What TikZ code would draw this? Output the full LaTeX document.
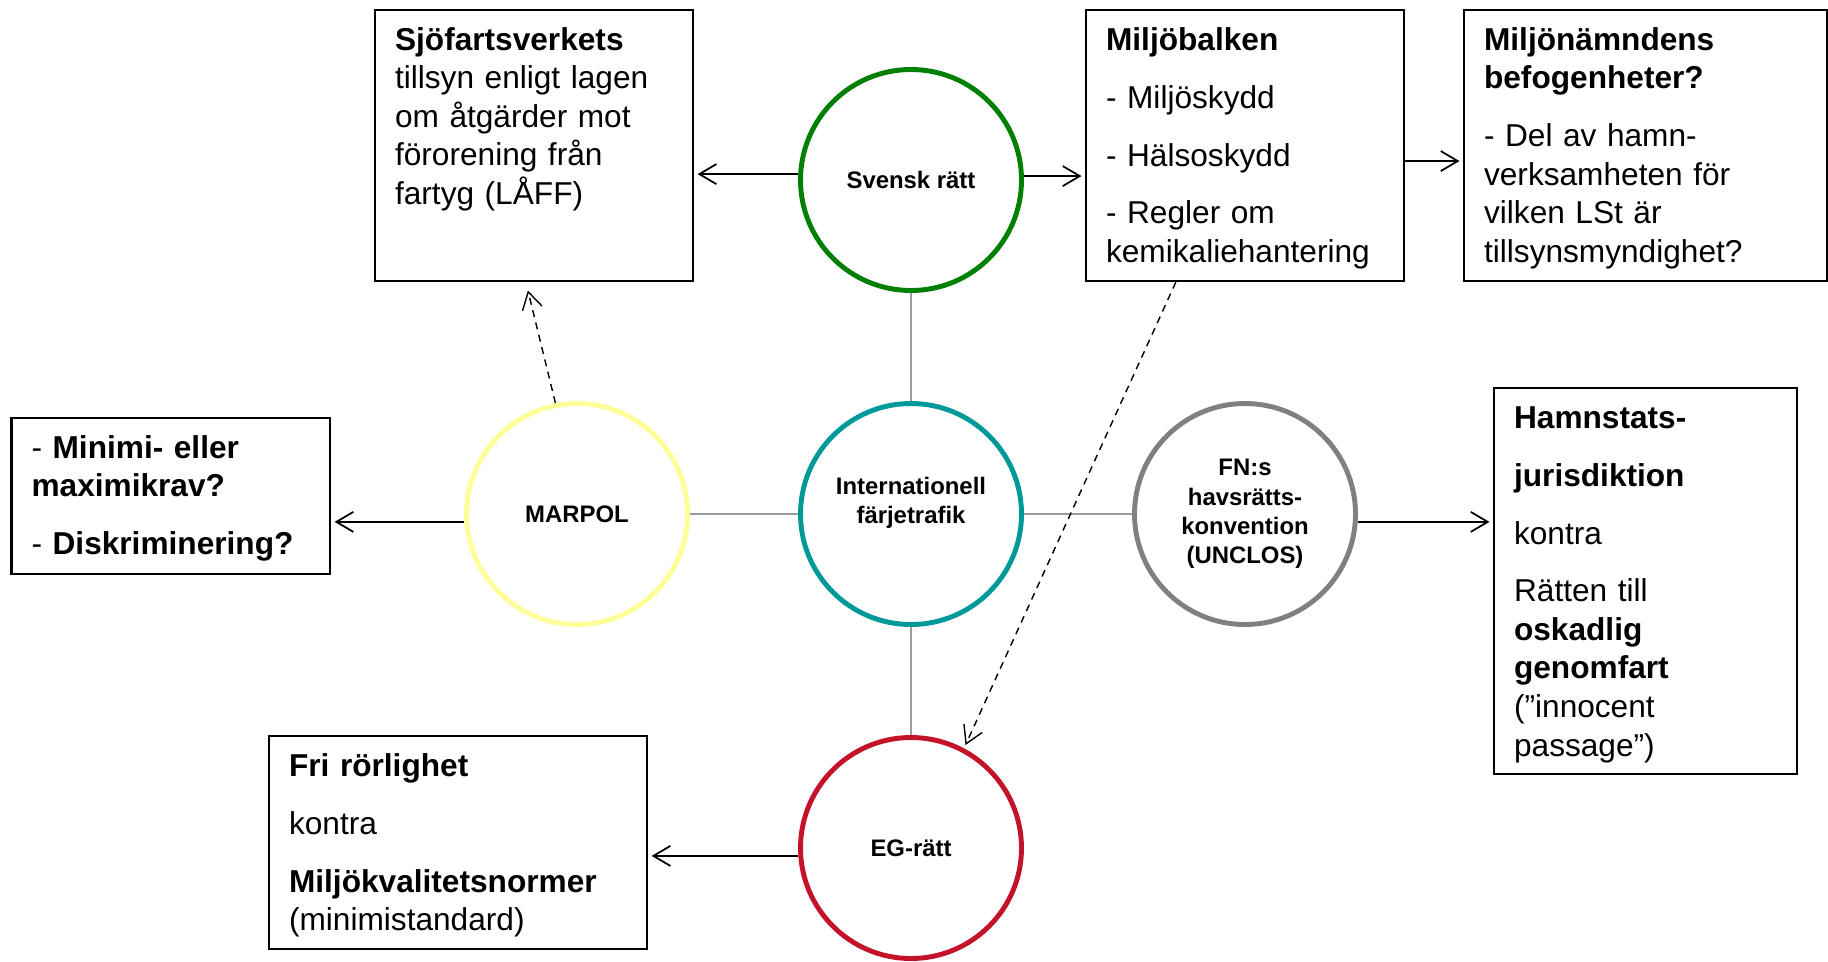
\documentclass[tikz,border=0pt]{standalone}
\usepackage{fontspec}
\setmainfont{Liberation Sans}
\usetikzlibrary{arrows.meta}
\definecolor{svgreen}{RGB}{0,128,0}
\definecolor{intlteal}{RGB}{0,153,153}
\definecolor{marpolyellow}{RGB}{255,255,153}
\definecolor{fngray}{RGB}{128,128,128}
\definecolor{egred}{RGB}{196,18,40}
\definecolor{linkgray}{RGB}{155,155,155}
\begin{document}
\begin{tikzpicture}[
  box/.style={draw, line width=0.6pt, anchor=north west, align=left, inner xsep=0.2cm, inner ysep=0.173cm, text height=0.23cm, font=\fontsize{9}{10.96}\selectfont},
  ring/.style={circle, draw, line width=1.4pt, minimum size=2.21cm, inner sep=0pt, align=center, font=\fontsize{6.8}{8.3}\selectfont\bfseries},
  arr/.style={-{Straight Barb[length=0.17cm,width=0.2cm]}, line width=0.5pt, shorten >=1pt},
  dasharr/.style={arr, dash pattern=on 2pt off 1.6pt, line width=0.4pt},
  link/.style={draw=linkgray, line width=0.8pt}
]
  \useasboundingbox[fill=white] (0,0) rectangle (18.28,-9.61);
  \node[ring, draw=svgreen] (svensk) at (9.11,-1.80) {Svensk rätt};
  \node[ring, draw=marpolyellow] (marpol) at (5.77,-5.14) {MARPOL};
  \node[ring, draw=intlteal, text depth=0.27cm] (intl) at (9.11,-5.14) {Internationell\\färjetrafik};
  \node[ring, draw=fngray] (fn) at (12.45,-5.14) {FN:s\\havsrätts-\\konvention\\(UNCLOS)};
  \node[ring, draw=egred] (eg) at (9.11,-8.48) {EG-rätt};
  \node[box, text width=2.78cm, text depth=2.134cm] (sjofart) at (3.74,-0.09) {\textbf{Sjöfartsverkets}\\tillsyn enligt lagen\\om åtgärder mot\\förorening från\\fartyg (LÅFF)};
  \node[box, text width=2.775cm, text depth=2.134cm] (miljobalken) at (10.85,-0.09) {\textbf{Miljöbalken}\\[5.5pt]- Miljöskydd\\[5.5pt]- Hälsoskydd\\[5.5pt]- Regler om\\kemikaliehantering};
  \node[box, text width=3.23cm, text depth=2.134cm] (miljonamnd) at (14.63,-0.09) {\textbf{Miljönämndens}\\\textbf{befogenheter?}\\[5.5pt]- Del av hamn-\\verksamheten för\\vilken LSt är\\tillsynsmyndighet?};
  \node[box, text width=2.785cm, text depth=0.984cm] (minimi) at (0.105,-4.17) {- \textbf{Minimi- eller}\\\textbf{maximikrav?}\\[5.5pt]- \textbf{Diskriminering?}};
  \node[box, text width=2.63cm, text depth=3.284cm] (hamnstat) at (14.93,-3.87) {\textbf{Hamnstats-}\\[5.5pt]\textbf{jurisdiktion}\\[5.5pt]kontra\\[5.5pt]Rätten till\\\textbf{oskadlig}\\\textbf{genomfart}\\(”innocent\\passage”)};
  \node[box, text width=3.38cm, text depth=1.554cm] (fri) at (2.68,-7.35) {\textbf{Fri rörlighet}\\[5.5pt]kontra\\[5.5pt]\textbf{Miljökvalitetsnormer}\\(minimistandard)};
  \draw[link] (svensk.south) -- (intl.north);
  \draw[link] (marpol.east) -- (intl.west);
  \draw[link] (intl.east) -- (fn.west);
  \draw[link] (intl.south) -- (eg.north);
  \draw[arr] (svensk.177.5) -- (svensk.177.5 -| sjofart.east);
  \draw[arr] (svensk.2.5) -- (svensk.2.5 -| miljobalken.west);
  \draw[arr] ([yshift=-0.155cm]miljobalken.east) -- ([yshift=-0.155cm]miljonamnd.west);
  \draw[arr] (marpol.184.4) -- (marpol.184.4 -| minimi.east);
  \draw[arr] (fn.-4.4) -- (fn.-4.4 -| hamnstat.west);
  \draw[arr] (eg.184) -- (eg.184 -| fri.east);
  \draw[dasharr] (marpol.101) -- ([xshift=-0.07cm,yshift=-0.05cm]sjofart.south);
  \draw[dasharr] ([xshift=-0.69cm]miljobalken.south) -- (eg.62);
\end{tikzpicture}
\end{document}
